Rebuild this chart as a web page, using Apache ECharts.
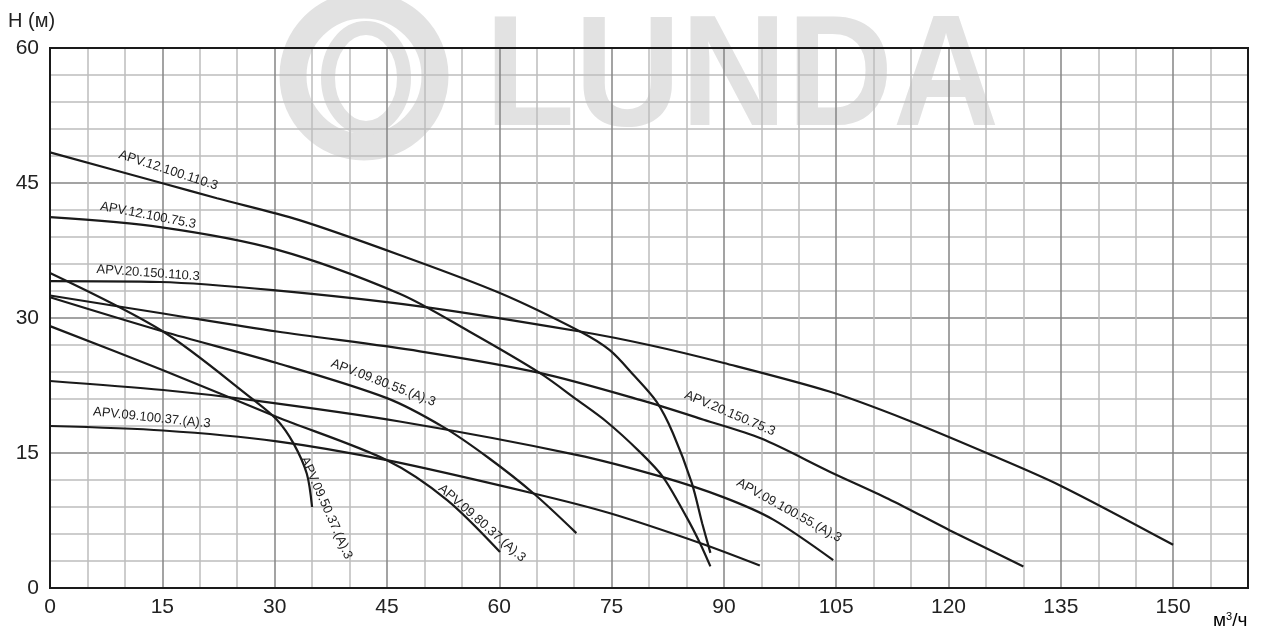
<!DOCTYPE html>
<html><head><meta charset="utf-8">
<script src="https://cdn.jsdelivr.net/npm/echarts@6/dist/echarts.min.js"></script>
<style>html,body{margin:0;padding:0;background:#fff}#c{width:1261px;height:633px}</style>
</head><body><div id="c"></div>
<script>
// ---------- data ----------
const curveNames = [
  'APV.12.100.110.3', 'APV.12.100.75.3', 'APV.20.150.110.3', 'APV.20.150.75.3',
  'APV.09.50.37.(A).3', 'APV.09.80.55.(A).3', 'APV.09.80.37.(A).3',
  'APV.09.100.55.(A).3', 'APV.09.100.37.(A).3'
];
const apv12_100_110 = [[0,48.4],[14.9,45.0],[22.3,43.3],[33.2,40.9],[46.7,37.0],[60,32.8],[70.8,28.5],[74.8,26.4],[78,23.6],[81,20.7],[83.2,17.2],[85.7,11.7],[87.1,7.2],[88.2,3.9]];
const apv12_100_75 = [[0,41.2],[14.7,40.1],[30.3,37.6],[46.7,32.7],[56,28.5],[65.4,23.9],[70.4,20.9],[74.3,18.5],[78.8,15.1],[81.9,12.3],[85,7.9],[86.8,5.0],[88.2,2.4]];
const apv20_150_110 = [[0,34.1],[14.7,34.0],[29.8,33.1],[49.4,31.3],[70.8,28.5],[80,27.0],[90,25.0],[104.2,21.8],[114.4,18.7],[125.1,15.0],[134.9,11.4],[150,4.8]];
const apv20_150_75 = [[0,32.5],[15.1,30.5],[30.3,28.5],[49.4,26.3],[65.4,23.9],[78.8,20.9],[87.3,18.7],[95,16.6],[104.2,12.9],[112,9.9],[120.2,6.4],[130,2.4]];
const apv09_50_37 = [[0,35.0],[15.1,28.5],[27.2,20.9],[30.3,18.7],[32.5,16.1],[34.3,12.7],[35,9.0]];
const apv09_80_55 = [[0,32.3],[15.1,28.5],[30.3,25.0],[45,21.1],[52.5,17.9],[58.5,14.5],[64.6,10.5],[70.3,6.1]];
const apv09_80_37 = [[0,29.1],[15.1,24.2],[30.3,19.0],[45,14.2],[53,9.8],[60.1,4.0]];
const apv09_100_55 = [[0,23.0],[15.1,22.0],[26.7,20.9],[46.7,18.5],[70.3,14.8],[81.5,12.4],[89.9,10.1],[96.6,7.6],[104.6,3.1]];
const apv09_100_37 = [[0,18.0],[15.1,17.5],[30.3,16.3],[45,14.2],[64.6,10.5],[74.8,8.3],[86.8,5.0],[94.8,2.5]];
const curves = [apv12_100_110, apv12_100_75, apv20_150_110, apv20_150_75, apv09_50_37, apv09_80_55, apv09_80_37, apv09_100_55, apv09_100_37];

const xMin = 0, xMax = 160, xStep = 5, xLabelStep = 15, xLabelMax = 150;
const yMin = 0, yMax = 60, yStep = 3, yLabelStep = 15;
const yAxisTitle = 'H (м)';
const watermarkText = 'LUNDA';

// ---------- layout / style ----------
// label anchors in data units: [x, y, angle in degrees (downward)]
const labelAnchors = [
  [15.8, 46.4, 18], [13.1, 41.4, 11], [13.1, 35.0, 4], [90.8, 19.4, 23],
  [36.9, 8.9, 66], [44.5, 22.8, 21], [57.7, 7.2, 41], [98.7, 8.6, 29], [13.6, 18.9, 6]
];
const FONT = '"Liberation Sans", Arial, sans-serif';

const chart = echarts.init(document.getElementById('c'), null, {renderer: 'canvas'});
const majorColor = '#858585', minorColor = '#bdbdbd';

chart.setOption({
  animation: false,
  backgroundColor: '#fff',
  grid: {left: 50, top: 48, right: 13, bottom: 45, show: true, borderColor: '#1a1a1a', borderWidth: 2, z: 3},
  xAxis: {
    type: 'value', min: xMin, max: xMax, interval: xStep,
    axisLine: {show: true, lineStyle: {color: '#1a1a1a', width: 2}},
    axisTick: {show: false},
    axisLabel: {
      fontFamily: FONT, fontSize: 21, color: '#222', margin: 9,
      formatter: v => (v % xLabelStep === 0 && v <= xLabelMax) ? String(v) : ''
    },
    splitLine: {show: true, lineStyle: {color: [majorColor, minorColor, minorColor], width: 1.5}}
  },
  yAxis: {
    type: 'value', min: yMin, max: yMax, interval: yStep,
    axisLine: {show: true, lineStyle: {color: '#1a1a1a', width: 2}},
    axisTick: {show: false},
    axisLabel: {
      fontFamily: FONT, fontSize: 21, color: '#222', margin: 11,
      formatter: v => (v % yLabelStep === 0) ? String(v) : ''
    },
    splitLine: {show: true, lineStyle: {color: [majorColor, minorColor, minorColor, minorColor, minorColor], width: 1.5}}
  },
  series: curves.map((d, i) => ({
    name: curveNames[i], type: 'line', data: d, showSymbol: false,
    smooth: 0.3, silent: true, z: 5,
    lineStyle: {color: '#1a1a1a', width: 2.2}
  }))
});

const graphics = [
  // watermark
  {type: 'ellipse', z: -10, shape: {cx: 364, cy: 76, rx: 71, ry: 71}, style: {fill: 'none', stroke: '#e2e2e2', lineWidth: 27}, silent: true},
  {type: 'ellipse', z: -10, shape: {cx: 366, cy: 78, rx: 38, ry: 50}, style: {fill: 'none', stroke: '#e2e2e2', lineWidth: 14}, silent: true},
  {type: 'text', z: -10, x: 485, y: 81, scaleX: 0.93, silent: true,
   style: {text: watermarkText, font: 'bold 158px ' + FONT, fill: '#e2e2e2', align: 'left', verticalAlign: 'middle'}},
  // axis titles
  {type: 'text', x: 8, y: 11, style: {text: yAxisTitle, font: '20px ' + FONT, fill: '#222', align: 'left', verticalAlign: 'top'}},
  {type: 'text', x: 1213, y: 611, style: {
    text: '{a|м}{s|3}{a|/ч}', align: 'left', verticalAlign: 'top',
    rich: {a: {fontFamily: FONT, fontSize: 19, color: '#222'}, s: {fontFamily: FONT, fontSize: 11, color: '#222', verticalAlign: 'top', padding: [0, 0, 8, 0]}}
  }}
];
labelAnchors.forEach((a, i) => {
  const p = chart.convertToPixel({gridIndex: 0}, [a[0], a[1]]);
  graphics.push({
    type: 'text', x: p[0], y: p[1], rotation: -a[2] * Math.PI / 180, z: 10,
    style: {text: curveNames[i], font: '13px ' + FONT, fill: '#222', align: 'center', verticalAlign: 'middle'}
  });
});
chart.setOption({graphic: graphics});
</script>
</body></html>
